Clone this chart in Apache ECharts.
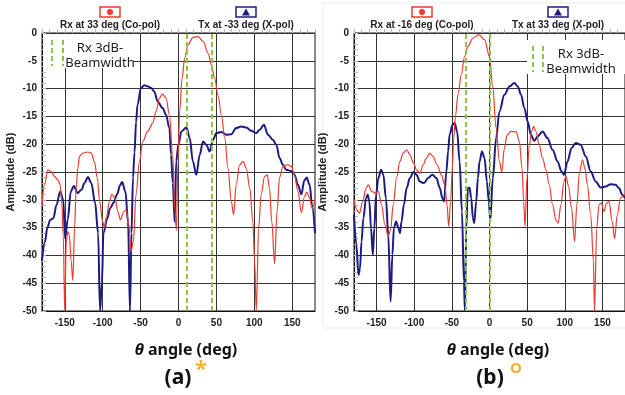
<!DOCTYPE html>
<html>
<head>
<meta charset="utf-8">
<script src="https://cdn.jsdelivr.net/npm/echarts@6/dist/echarts.min.js"></script>
<style>
  html, body { margin: 0; padding: 0; background: #fff; }
  #main { width: 625px; height: 395px; }
</style>
</head>
<body>
<div id="main"></div>
<script>
// (a) Rx at 33 deg co-pol / Tx at -33 deg x-pol
const rxA_deg = [-180, -176.7, -172.3, -168, -163.6, -159, -156, -154, -152, -150, -148, -146, -144, -141.6, -139.4, -137, -135, -132.8, -130.6, -126, -119.5, -115, -111, -107, -104, -100, -97.7, -95.5, -91, -88, -83.6, -80, -76.6, -72, -69, -66, -62.5, -59.5, -56, -51.6, -47, -40.6, -34, -29.6, -25.2, -21, -16.4, -12, -7.7, -4.6, -2.8, -0.6, 1.6, 4.7, 8.2, 12.6, 19, 25.7, 32.3, 39, 43.3, 47.7, 52, 56.5, 61, 65.3, 69.6, 72.7, 76, 80.6, 85, 89.4, 94, 98, 100.4, 102.6, 105.7, 109, 113.6, 117, 120, 123, 126.7, 130, 133.3, 137.7, 144, 148.7, 153, 157.5, 162, 166, 169, 173, 176, 180];
const rxA_db = [-31, -27.3, -24.6, -24.9, -25.8, -26.4, -27.3, -30.3, -36.3, -50, -37.5, -35.7, -36.3, -41, -44.5, -35, -27.9, -24.3, -22.2, -21.6, -21.4, -21.6, -23.1, -26.1, -30.3, -33.9, -35, -33.3, -30.3, -29, -29.7, -32.1, -33.6, -32.1, -31.8, -33.9, -39.3, -37.5, -29, -23.1, -19.5, -17.7, -16.2, -14.1, -11.7, -11, -11.7, -14.7, -21.9, -32, -35.5, -23.1, -14.1, -8.1, -4.5, -2.1, -0.8, -0.6, -1.5, -3.6, -5.7, -8.1, -11.1, -14.7, -18.9, -24.3, -30.3, -32.7, -27.3, -23.7, -23.1, -24.3, -27.9, -33.9, -41, -50, -35, -29, -25.8, -25.5, -27.9, -33.9, -41.5, -32, -26, -24, -23.7, -24, -25.5, -28.5, -32.3, -29.5, -28.6, -29.7, -31.5, -30];
const txA_deg = [-180, -176, -173, -169, -165, -161, -156, -152, -149.5, -146, -142, -138, -133, -128, -124, -119.5, -115, -110, -106, -103.5, -101, -99, -94, -90, -85.5, -81, -77, -74.5, -70, -66.5, -64, -62, -60, -58, -56, -54, -49.5, -45, -40, -36, -32, -27.5, -21, -16.5, -12, -9.8, -7.5, -5, -3, 0, 3.8, 10.4, 14.8, 19, 23.5, 28, 32.3, 36.7, 41, 45.5, 50, 56.5, 63, 69.6, 76, 83, 89.4, 96, 102.6, 107, 112.7, 118, 124.5, 129, 133.3, 137.7, 142, 148.7, 153, 157.5, 162, 166, 169, 173, 176, 180];
const txA_db = [-41, -37.5, -35, -33.6, -33.3, -31, -28.5, -30, -37, -33.5, -28.5, -27.5, -28.8, -28.2, -27, -25.9, -27, -30.5, -36, -50, -45, -36, -33.4, -31.5, -30.5, -29, -27.4, -26.8, -28.5, -34, -50, -36, -26, -21.5, -16, -12.9, -9.9, -9.4, -9.6, -9.9, -10.5, -12.3, -13.5, -14.7, -17.1, -21.9, -27, -34, -23, -20, -17.7, -17, -18.9, -23.1, -25.5, -21.9, -19.5, -20.1, -21.3, -19.2, -18, -17.8, -18.3, -18.2, -17.1, -16.8, -17, -17.6, -18, -17.4, -16.5, -18.3, -19.2, -20.1, -22.5, -23.7, -24.6, -24.8, -25.5, -27.3, -29, -26.5, -26, -27.3, -30.9, -36];
const bwA = [10.5, 44];

// (b) Rx at -16 deg co-pol / Tx at 33 deg x-pol
const rxB_deg = [-180, -176, -172.8, -168.4, -164, -161, -156.5, -152, -147.7, -143.3, -139, -134.5, -131.4, -127.9, -123.5, -119, -114.6, -110, -105.8, -101, -97, -92.6, -88, -83.8, -79.4, -75, -69.7, -64, -59.5, -56.4, -54.2, -51.6, -49.4, -47.6, -45, -41.9, -37.5, -33, -28.7, -22, -14, -6.6, 0, 4.4, 8.8, 13.2, 16.3, 19.8, 23.4, 28.7, 35.3, 39.7, 43.2, 45.4, 47.2, 49.8, 52.9, 56, 58.6, 61.7, 66, 70.5, 75, 79.4, 83.8, 88.2, 91.3, 94.8, 99, 101.5, 105, 109, 113, 116, 119.5, 123.5, 127, 130, 134.5, 138, 139.5, 142.4, 145.5, 148.6, 152, 155.6, 158.7, 163, 166.2, 169.8, 174, 178.6, 180];
const rxB_db = [-30, -31.8, -32.4, -30.3, -27.9, -27.3, -28.5, -28.8, -28.5, -30.9, -34.5, -36.6, -35.4, -30.9, -26.1, -23.1, -21.6, -21, -21.9, -23.4, -24.6, -25.2, -23.7, -22.5, -21.6, -22.2, -23.7, -25.5, -27.3, -30.9, -34.8, -30.3, -24.3, -18.9, -14.7, -11.1, -7.5, -4.2, -2.4, -0.9, -0.3, -1.2, -4.2, -9.9, -17.1, -23.1, -25, -20.7, -18.3, -17.7, -17.8, -19.5, -24.3, -30.3, -34.8, -26.1, -20.1, -17.7, -16.8, -17.7, -20.1, -22.5, -24.6, -27.3, -30.9, -33.6, -34.2, -30.9, -26.7, -25.8, -27.5, -31.5, -37.5, -31, -25, -22.8, -24.5, -27.3, -32.7, -41, -50, -35.1, -30.9, -30.6, -32.1, -30.6, -30.3, -33.9, -37, -32.7, -29.7, -29, -29];
const txB_deg = [-180, -177, -174, -172, -170, -167.5, -164, -161.8, -159.6, -157.4, -155, -153, -150.7, -147.7, -144, -141, -137.6, -134.5, -131.4, -129, -127, -124, -121, -119, -116.8, -113.8, -110, -105.8, -101, -97, -92.6, -87, -81.6, -76, -70.5, -66, -62.6, -60.4, -57.3, -55, -53, -49, -46.3, -43, -39.7, -36.6, -34, -32.6, -30.9, -28.7, -26.5, -24.3, -22, -20.3, -17.6, -15.4, -13.2, -10, -6.6, -3.5, -0.9, 1, 4.4, 8.8, 13.2, 19.8, 26.5, 33, 37.5, 41.9, 46.3, 50.7, 55, 59.5, 63.9, 70.5, 77, 83.8, 90.4, 95.7, 99, 103.6, 109, 114.6, 121, 127.9, 134.5, 141, 147.7, 154.3, 160.9, 167.5, 172, 176.4, 180];
const txB_db = [-32.7, -38, -43.5, -42.3, -37.5, -33.3, -29.7, -29.1, -30.3, -35.1, -39.9, -35.1, -29.1, -26.1, -24.6, -25.5, -29.7, -36.3, -48.3, -39.9, -35.1, -33.9, -35.1, -36, -33.9, -30.9, -27.9, -26.1, -25, -25.5, -26.7, -27, -26.1, -25.5, -26.1, -27.9, -29.7, -30.3, -24.9, -21.3, -18.3, -16.5, -16.2, -17.7, -23.1, -32.1, -44.7, -50, -35.1, -27.9, -27.8, -29.7, -33.3, -34.2, -30.3, -26.1, -23.1, -21.3, -22.5, -26.7, -30.3, -33.8, -26.1, -18.9, -14.1, -11.1, -9.6, -9, -9.6, -11.1, -13.5, -15.9, -18.3, -19.4, -18.6, -17.7, -18.9, -21, -23.1, -24.9, -25.5, -23.1, -20.7, -19.8, -20.1, -22.2, -24.9, -26.7, -27.8, -27.6, -27.2, -27.3, -27.9, -29.1, -29.7];
const bwB = [-31, 0];

const majorX = [-150, -100, -50, 0, 50, 100, 150];

const RED = '#ee3b30';
const BLUE = '#1c1c84';
const GREEN = '#8cc63f';
const tickFont = { fontFamily: 'Liberation Sans', fontWeight: 'bold', fontSize: 10, color: '#222' };

const pair = (xs, ys) => xs.map((x, i) => [x, ys[i]]);

function mainX(gridIndex) {
  return {
    type: 'value', gridIndex: gridIndex, min: -180, max: 180,
    axisLine: { show: true, onZero: false, lineStyle: { color: '#111', width: 1 } },
    axisTick: { show: false, customValues: majorX },
    axisLabel: Object.assign({ customValues: majorX, margin: 7 }, tickFont),
    splitLine: { show: true, lineStyle: { color: '#333', width: 1 } }
  };
}
function minorX(gridIndex) {
  return {
    type: 'value', gridIndex: gridIndex, min: -180, max: 180, interval: 10,
    position: 'bottom',
    axisLine: { show: false },
    axisTick: { show: true, inside: true, length: 4, lineStyle: { color: '#bbb' } },
    axisLabel: { show: false },
    splitLine: { show: false }
  };
}
function yAx(gridIndex) {
  return {
    type: 'value', gridIndex: gridIndex, min: -50, max: 0, interval: 5,
    name: 'Amplitude (dB)', nameLocation: 'middle', nameGap: 26,
    nameTextStyle: { fontFamily: 'Liberation Sans', fontWeight: 'bold', fontSize: 11, color: '#222' },
    axisLine: { show: true, onZero: false, lineStyle: { color: '#111', width: 1 } },
    axisTick: { show: true, inside: true, length: 4, lineStyle: { color: '#bbb' } },
    minorTick: { show: true, splitNumber: 5, length: 4, lineStyle: { color: '#bbb' } },
    axisLabel: Object.assign({ margin: 5 }, tickFont),
    splitLine: { show: true, lineStyle: { color: '#333', width: 1 } }
  };
}
function curve(name, data, color, width, xi, yi) {
  return {
    name: name, type: 'line', data: data, xAxisIndex: xi, yAxisIndex: yi,
    showSymbol: false, smooth: 0.35, smoothMonotone: 'x', clip: true,
    lineStyle: { color: color, width: width }, animation: false, z: 3
  };
}
function bwLines(xs, xi, yi) {
  return {
    type: 'line', data: [], xAxisIndex: xi, yAxisIndex: yi, animation: false,
    markLine: {
      silent: true, symbol: 'none', label: { show: false },
      lineStyle: { color: GREEN, type: [5, 3], width: 2 },
      data: xs.map(v => ({ xAxis: v }))
    }
  };
}

// header legend (icon above text) and beamwidth key box
function header(cx1, t1, cx2, t2) {
  const txt = (cx, s) => ({
    type: 'text', x: cx, y: 25, z: 100,
    style: { text: s, fill: '#222', font: 'bold 10px "Liberation Sans"', align: 'center', verticalAlign: 'middle' }
  });
  return [
    { type: 'rect', z: 100, shape: { x: cx1 - 10, y: 7, width: 20, height: 10 }, style: { fill: '#fff', stroke: RED, lineWidth: 1.5 } },
    { type: 'circle', z: 101, shape: { cx: cx1, cy: 12, r: 3 }, style: { fill: RED } },
    { type: 'rect', z: 100, shape: { x: cx2 - 10, y: 7, width: 20, height: 10 }, style: { fill: '#fff', stroke: BLUE, lineWidth: 1.5 } },
    { type: 'polygon', z: 101, shape: { points: [[cx2, 8.5], [cx2 - 4, 15.5], [cx2 + 4, 15.5]] }, style: { fill: BLUE } },
    txt(cx1, t1), txt(cx2, t2)
  ];
}
function bwKey(x, y, w, h, l1, l2, tx) {
  const dash = (lx) => ({ type: 'line', z: 101, shape: { x1: lx, y1: y + 6, x2: lx, y2: y + h - 2 }, style: { stroke: GREEN, lineWidth: 2, lineDash: [5, 3] } });
  const t = (s, ty) => ({ type: 'text', x: tx, y: ty, z: 101, style: { text: s, fill: '#222', font: '13px "Noto Sans"', align: 'center', verticalAlign: 'middle' } });
  return [
    { type: 'rect', z: 100, shape: { x: x, y: y, width: w, height: h }, style: { fill: '#fff' } },
    dash(l1), dash(l2), t('Rx 3dB-', y + 14), t('Beamwidth', y + 29)
  ];
}
function caption(cx, letter, mark, mx, my, msize) {
  return [
    { type: 'text', x: cx, y: 350, z: 100,
      style: { text: '{th|θ} angle (deg)', fill: '#111', font: 'bold 16px "Noto Sans"', align: 'center', verticalAlign: 'middle',
        rich: { th: { fontStyle: 'italic', fontWeight: 'bold', fontSize: 16, fontFamily: 'Noto Sans' } } } },
    { type: 'text', x: cx - 8, y: 378, z: 100,
      style: { text: letter, fill: '#111', font: 'bold 21px "Noto Sans"', align: 'center', verticalAlign: 'middle' } },
    { type: 'text', x: mx, y: my, z: 100,
      style: { text: mark, fill: '#f4b22e', font: 'bold ' + msize + 'px "Noto Sans"', align: 'center', verticalAlign: 'middle' } }
  ];
}

const chart = echarts.init(document.getElementById('main'));
chart.setOption({
  backgroundColor: '#fff',
  animation: false,
  grid: [
    { left: 42, top: 33, width: 273, height: 278, show: true, borderColor: '#111', borderWidth: 1, backgroundColor: '#fff' },
    { left: 354, top: 33, width: 272, height: 278, show: true, borderColor: '#111', borderWidth: 1, backgroundColor: '#fff' }
  ],
  xAxis: [mainX(0), minorX(0), mainX(1), minorX(1)],
  yAxis: [yAx(0), yAx(1)],
  series: [
    curve('Tx at -33 deg (X-pol)', pair(txA_deg, txA_db), BLUE, 2, 0, 0),
    curve('Rx at 33 deg (Co-pol)', pair(rxA_deg, rxA_db), RED, 1.2, 0, 0),
    bwLines(bwA, 0, 0),
    curve('Tx at 33 deg (X-pol)', pair(txB_deg, txB_db), BLUE, 2, 2, 1),
    curve('Rx at -16 deg (Co-pol)', pair(rxB_deg, rxB_db), RED, 1.2, 2, 1),
    bwLines(bwB, 2, 1)
  ],
  graphic: [
    { type: 'rect', z: -1, shape: { x: 323, y: 3, width: 310, height: 325 }, style: { fill: 'none', stroke: '#ececec', lineWidth: 1 } }
  ].concat(
    header(110, 'Rx at 33 deg (Co-pol)', 246, 'Tx at -33 deg (X-pol)'),
    header(422, 'Rx at -16 deg (Co-pol)', 558, 'Tx at 33 deg (X-pol)'),
    bwKey(43, 34, 90, 34, 52, 63, 100),
    bwKey(527, 40, 98, 34, 533, 543, 581),
    caption(186, '(a)', '*', 201, 370, 22),
    caption(498, '(b)', 'O', 516, 369, 15)
  )
});
</script>
</body>
</html>
